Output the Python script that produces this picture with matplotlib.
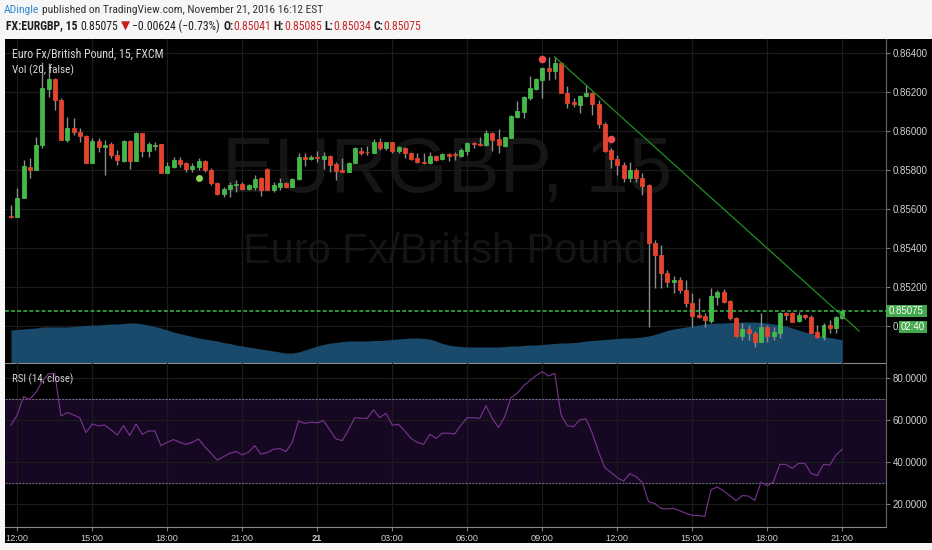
import matplotlib
matplotlib.use("Agg")
import matplotlib.pyplot as plt
from matplotlib.patches import Rectangle
from matplotlib.font_manager import FontProperties, fontManager
import numpy as np

# ---------------- data ----------------
opens = [0.85564, 0.85559, 0.85656, 0.85815, 0.85800, 0.85928, 0.86215, 0.86267, 0.86159, 0.85954,
         0.86015, 0.85995, 0.85974, 0.85836, 0.85949, 0.85918, 0.85933, 0.85877, 0.85846, 0.85949,
         0.85846, 0.85990, 0.85897, 0.85923, 0.85933, 0.85785, 0.85815, 0.85851, 0.85836, 0.85805,
         0.85815, 0.85846, 0.85800, 0.85733, 0.85677, 0.85702, 0.85723, 0.85728, 0.85702, 0.85713,
         0.85759, 0.85805, 0.85697, 0.85713, 0.85733, 0.85713, 0.85754, 0.85867, 0.85856, 0.85867,
         0.85856, 0.85872, 0.85831, 0.85800, 0.85790, 0.85836, 0.85897, 0.85892, 0.85887, 0.85944,
         0.85913, 0.85944, 0.85897, 0.85913, 0.85887, 0.85861, 0.85841, 0.85836, 0.85872, 0.85856,
         0.85882, 0.85882, 0.85872, 0.85897, 0.85938, 0.85933, 0.85928, 0.85990, 0.85959, 0.85923,
         0.85964, 0.86072, 0.86097, 0.86169, 0.86215, 0.86262, 0.86323, 0.86308, 0.86349, 0.86195,
         0.86149, 0.86133, 0.86180, 0.86195, 0.86139, 0.86036, 0.85903, 0.85856, 0.85826, 0.85759,
         0.85800, 0.85759, 0.85723, 0.85425, 0.85364, 0.85272, 0.85225, 0.85236, 0.85184, 0.85118,
         0.85056, 0.85051, 0.85025, 0.85148, 0.85174, 0.85128, 0.85041, 0.84948, 0.84984, 0.84964,
         0.84918, 0.84995, 0.84948, 0.84964, 0.85066, 0.85066, 0.85025, 0.85056, 0.85046, 0.84969,
         0.84943, 0.85005, 0.84989, 0.85041]
highs = [0.85620, 0.85708, 0.85851, 0.85861, 0.85969, 0.86354, 0.86349, 0.86272, 0.86169, 0.86072,
         0.86067, 0.86015, 0.85979, 0.85964, 0.85964, 0.85954, 0.85944, 0.85903, 0.85954, 0.85954,
         0.85995, 0.85990, 0.85944, 0.85944, 0.85933, 0.85841, 0.85867, 0.85867, 0.85841, 0.85836,
         0.85861, 0.85851, 0.85810, 0.85738, 0.85713, 0.85738, 0.85749, 0.85738, 0.85728, 0.85774,
         0.85764, 0.85810, 0.85738, 0.85759, 0.85738, 0.85759, 0.85887, 0.85887, 0.85877, 0.85897,
         0.85892, 0.85877, 0.85841, 0.85861, 0.85841, 0.85918, 0.85918, 0.85923, 0.85959, 0.85964,
         0.85944, 0.85944, 0.85923, 0.85918, 0.85892, 0.85887, 0.85887, 0.85892, 0.85877, 0.85887,
         0.85887, 0.85892, 0.85913, 0.85944, 0.85944, 0.85969, 0.86005, 0.85995, 0.86010, 0.85969,
         0.86082, 0.86154, 0.86180, 0.86282, 0.86272, 0.86328, 0.86380, 0.86380, 0.86354, 0.86231,
         0.86169, 0.86185, 0.86236, 0.86200, 0.86159, 0.86046, 0.85913, 0.85877, 0.85841, 0.85841,
         0.85810, 0.85785, 0.85728, 0.85441, 0.85415, 0.85287, 0.85256, 0.85251, 0.85236, 0.85169,
         0.85143, 0.85066, 0.85195, 0.85184, 0.85189, 0.85133, 0.85046, 0.85015, 0.85005, 0.84974,
         0.85066, 0.85005, 0.84995, 0.85071, 0.85071, 0.85071, 0.85071, 0.85061, 0.85056, 0.85005,
         0.85015, 0.85030, 0.85051, 0.85085]
lows = [0.85554, 0.85559, 0.85656, 0.85759, 0.85800, 0.85913, 0.86174, 0.86108, 0.85954, 0.85944,
        0.85979, 0.85944, 0.85836, 0.85836, 0.85892, 0.85774, 0.85861, 0.85826, 0.85841, 0.85805,
        0.85846, 0.85867, 0.85867, 0.85903, 0.85785, 0.85785, 0.85810, 0.85815, 0.85790, 0.85790,
        0.85800, 0.85790, 0.85723, 0.85672, 0.85661, 0.85661, 0.85687, 0.85697, 0.85697, 0.85697,
        0.85667, 0.85697, 0.85687, 0.85697, 0.85708, 0.85713, 0.85749, 0.85820, 0.85851, 0.85841,
        0.85805, 0.85790, 0.85749, 0.85790, 0.85790, 0.85836, 0.85877, 0.85877, 0.85887, 0.85903,
        0.85903, 0.85887, 0.85887, 0.85861, 0.85851, 0.85836, 0.85831, 0.85831, 0.85846, 0.85851,
        0.85846, 0.85851, 0.85867, 0.85877, 0.85913, 0.85923, 0.85923, 0.85897, 0.85887, 0.85918,
        0.85964, 0.86067, 0.86067, 0.86159, 0.86210, 0.86169, 0.86262, 0.86267, 0.86195, 0.86118,
        0.86123, 0.86092, 0.86174, 0.86082, 0.86015, 0.85892, 0.85810, 0.85774, 0.85738, 0.85738,
        0.85738, 0.85672, 0.84995, 0.85195, 0.85195, 0.85200, 0.85169, 0.85169, 0.85097, 0.84995,
        0.85041, 0.84995, 0.85015, 0.85107, 0.85118, 0.85030, 0.84943, 0.84928, 0.84928, 0.84892,
        0.84918, 0.84918, 0.84928, 0.84938, 0.85030, 0.85020, 0.85020, 0.85036, 0.84964, 0.84938,
        0.84928, 0.84964, 0.84964, 0.85034]
closes = [0.85559, 0.85656, 0.85820, 0.85800, 0.85928, 0.86221, 0.86267, 0.86159, 0.85954, 0.86015,
          0.85995, 0.85974, 0.85836, 0.85949, 0.85918, 0.85928, 0.85877, 0.85851, 0.85949, 0.85846,
          0.85990, 0.85897, 0.85933, 0.85928, 0.85785, 0.85820, 0.85851, 0.85831, 0.85805, 0.85820,
          0.85846, 0.85800, 0.85733, 0.85677, 0.85702, 0.85723, 0.85728, 0.85702, 0.85723, 0.85754,
          0.85697, 0.85697, 0.85723, 0.85733, 0.85713, 0.85754, 0.85867, 0.85856, 0.85867, 0.85861,
          0.85872, 0.85826, 0.85795, 0.85790, 0.85836, 0.85913, 0.85887, 0.85890, 0.85944, 0.85913,
          0.85944, 0.85897, 0.85918, 0.85887, 0.85856, 0.85841, 0.85836, 0.85872, 0.85851, 0.85882,
          0.85872, 0.85877, 0.85903, 0.85938, 0.85933, 0.85928, 0.85990, 0.85954, 0.85928, 0.85969,
          0.86077, 0.86103, 0.86174, 0.86221, 0.86267, 0.86323, 0.86308, 0.86349, 0.86195, 0.86144,
          0.86139, 0.86180, 0.86195, 0.86139, 0.86036, 0.85897, 0.85856, 0.85826, 0.85759, 0.85800,
          0.85759, 0.85718, 0.85425, 0.85364, 0.85272, 0.85225, 0.85236, 0.85184, 0.85118, 0.85051,
          0.85046, 0.85030, 0.85154, 0.85174, 0.85123, 0.85041, 0.84948, 0.84984, 0.84964, 0.84918,
          0.84995, 0.84948, 0.84969, 0.85066, 0.85056, 0.85020, 0.85056, 0.85046, 0.84964, 0.84943,
          0.85005, 0.84989, 0.85046, 0.85075]
rsi = [57.5, 62.3, 71.0, 69.7, 73.0, 78.4, 81.8, 82.1, 61.8, 63.5,
       62.3, 61.0, 53.9, 58.0, 57.1, 57.5, 55.2, 52.8, 57.2, 52.5,
       58.0, 53.1, 54.7, 54.7, 47.7, 49.3, 50.6, 49.3, 48.3, 49.3,
       50.9, 47.2, 44.1, 40.9, 42.5, 44.1, 44.9, 43.3, 44.6, 47.7,
       43.7, 44.4, 46.0, 46.3, 44.9, 49.3, 59.4, 58.3, 58.8, 58.6,
       59.6, 55.2, 50.9, 50.1, 55.2, 61.0, 60.7, 60.7, 64.7, 61.0,
       63.1, 57.5, 57.8, 54.7, 51.2, 49.3, 48.3, 53.1, 51.2, 53.6,
       53.6, 53.3, 57.5, 61.0, 61.0, 60.7, 66.7, 60.7, 56.3, 61.5,
       70.5, 72.6, 76.2, 78.6, 81.0, 82.9, 80.8, 82.1, 62.3, 57.2,
       56.7, 59.9, 60.4, 53.6, 44.9, 37.3, 35.0, 32.5, 30.9, 34.4,
       33.0, 30.3, 21.1, 20.2, 17.9, 17.6, 17.9, 16.8, 15.6, 14.6,
       14.5, 14.1, 26.7, 28.1, 26.2, 24.0, 21.6, 24.0, 23.8, 21.7,
       30.3, 28.7, 30.6, 38.8, 38.8, 36.9, 39.3, 39.3, 34.6, 33.5,
       38.8, 38.5, 43.3, 46.0]
vol_sma = [33, 33.5, 34, 34.5, 35, 36, 36, 36, 36, 36,
           36.5, 37, 37.5, 38, 38, 38.5, 39, 39, 39.5, 40,
           40, 39, 38, 36.5, 35, 33, 31, 29.5, 28, 26.5,
           25, 24, 23, 22, 20.5, 19.5, 18, 17, 16, 15,
           14, 13, 12, 11, 10, 10, 11, 13, 15, 17,
           18.5, 20, 20.5, 21.5, 22, 22, 22, 22, 22.5, 22.5,
           23, 23.5, 24, 24.5, 25, 25, 24.5, 24, 22, 19.5,
           18, 17, 16.5, 16, 16, 16, 16, 16, 16, 16.5,
           17, 17, 17.5, 18, 18, 18.5, 19, 19.5, 20, 20,
           20.5, 21, 22, 22.5, 23, 23.5, 24, 24.5, 25, 25,
           25.5, 26, 27, 28.5, 30.5, 32.5, 34, 35, 36, 37,
           38, 39, 39.5, 40, 40, 40.5, 40.5, 41, 41, 41,
           40.5, 40, 39, 38, 37, 35, 33, 31, 29.5, 28,
           26.5, 25.5, 24.5, 23]
vol_axis_max = 324.0
time_labels = ["12:00", "15:00", "18:00", "21:00", "21", "03:00",
               "06:00", "09:00", "12:00", "15:00", "18:00", "21:00"]
bars_per_label = 12
price_ticks = [0.850, 0.852, 0.854, 0.856, 0.858, 0.860, 0.862, 0.864]
rsi_ticks = [20, 40, 60, 80]
rsi_upper, rsi_lower = 70, 30
last_price = 0.85075
countdown = "02:40"
trend_x = [87.0, 135.7]
trend_y = [0.86380, 0.84974]
buy_x, buy_y = [30], [0.85759]
sell_x, sell_y = [85, 96], [0.86369, 0.85959]

# ---------------- styling ----------------
W, H = 932, 550
GREEN = "#45b84a"
RED = "#e5432d"
WICK = "#8c8c8c"
GRID = "#1b1b1b"
TXT = "#d2d2d2"

installed = {f.name for f in fontManager.ttflist}


def pick(*names):
    for nm in names:
        if nm in installed:
            return [nm, "DejaVu Sans"]
    return ["DejaVu Sans"]


hdr_family = pick("Roboto Condensed", "Open Sans Condensed", "Liberation Sans Narrow", "Lato")
lbl_family = pick("Roboto Condensed", "Liberation Sans Narrow", "Lato")
num_family = pick("Liberation Sans")

fig = plt.figure(figsize=(W / 100, H / 100), dpi=100)
fig.patch.set_facecolor("#f6f6f6")
renderer = fig.canvas.get_renderer()


def rect(x0, y0, x1, y1):
    return [x0 / W, 1 - y1 / H, (x1 - x0) / W, (y1 - y0) / H]


def adv(s, size, weight, family):
    fp = FontProperties(family=family, size=size, weight=weight)
    w1, _, _ = renderer.get_text_width_height_descent("|" + s + "|", fp, ismath=False)
    w0, _, _ = renderer.get_text_width_height_descent("||", fp, ismath=False)
    return w1 - w0


def seq_text(x0, y, parts, target_w, family, base=8.0, zorder=6):
    total = sum(adv(s, base, wt, family) for s, c, wt in parts)
    size = base * target_w / total
    x = x0
    for s, c, wt in parts:
        if c is not None:
            fig.text(x / W, 1 - y / H, s, fontsize=size, color=c, fontweight=wt,
                     family=family, ha="left", va="center", zorder=zorder)
        x += adv(s, size, wt, family)


def fit_size(s, target_w, family, weight="normal", base=10.0):
    return base * target_w / adv(s, base, weight, family)


# black chart background
bg = fig.add_axes(rect(5, 39, 932, 543))
bg.set_facecolor("black")
bg.set_xticks([]); bg.set_yticks([])
for sp in bg.spines.values():
    sp.set_visible(False)
bg.set_zorder(0)

n = len(opens)
idx = np.arange(n)
xlim = (-0.96, 140.0)
ylim_main = (0.84810, 0.86472)

# main price axes
ax = fig.add_axes(rect(5, 39, 886, 363))
ax.set_zorder(2)
ax.patch.set_alpha(0)
ax.set_xlim(*xlim)
ax.set_ylim(*ylim_main)
tick_bars = list(range(1, n, bars_per_label))

# watermark
wm_family = pick("Liberation Sans")
s1 = "EURGBP, 15"
ax.text(447 / W, 1 - 171 / H, s1, transform=fig.transFigure, ha="center", va="center",
        fontsize=fit_size(s1, 450, wm_family), color="#151515", family=wm_family, zorder=0)
s2 = "Euro Fx/British Pound"
ax.text(445 / W, 1 - 252 / H, s2, transform=fig.transFigure, ha="center", va="center",
        fontsize=fit_size(s2, 406, wm_family), color="#141414", family=wm_family, zorder=0)

for p in price_ticks:
    ax.axhline(p, color=GRID, lw=0.9, zorder=0.5)
for tb in tick_bars:
    ax.axvline(tb, color=GRID, lw=0.9, zorder=0.5)

# volume moving-average area (own scale along the panel height)
ax.fill_between(idx, 0, np.array(vol_sma) / vol_axis_max, transform=ax.get_xaxis_transform(),
                color="#1a4a6b", lw=0, zorder=1)

o, h, l, c = (np.array(a) for a in (opens, highs, lows, closes))
colors = np.where(c >= o, GREEN, RED)
ax.vlines(idx, l, h, color=WICK, lw=1.0, zorder=3)
body_bot = np.minimum(o, c)
body_h = np.maximum(np.abs(c - o), 0.00002)
ax.bar(idx, body_h, bottom=body_bot, width=0.64, color=colors, edgecolor=colors,
       lw=0.6, zorder=4)

ax.plot(trend_x, trend_y, color="#1f8f1f", lw=0.9, zorder=5)
ax.axhline(last_price, color="#3fbf4a", lw=1.1, ls=(0, (2.5, 1.5)), zorder=5)
ax.plot(buy_x, buy_y, "o", color="#8bd45a", ms=5, mec="none", zorder=6)
ax.plot(sell_x, sell_y, "o", color="#e84b4b", ms=5.5, mec="none", zorder=6)

ax.yaxis.tick_right()
ax.set_yticks(price_ticks)
ax.set_yticklabels([f"{p:.5f}" for p in price_ticks])
ax.set_xticks([])
ax.tick_params(axis="y", colors="#7a7a7a", labelcolor=TXT, length=3, width=0.8,
               pad=2, labelsize=7)
for lab in ax.get_yticklabels():
    lab.set_family(num_family)
for side in ("top", "left"):
    ax.spines[side].set_visible(False)
ax.spines["right"].set_color("#666666")
ax.spines["bottom"].set_color("#8a8a8a")

# RSI axes
ar = fig.add_axes(rect(5, 363, 886, 527))
ar.set_zorder(2)
ar.patch.set_alpha(0)
ar.set_xlim(*xlim)
ar.set_ylim(9.07, 86.98)
ar.axhspan(rsi_lower, rsi_upper, color="#160822", lw=0, zorder=0)
for v in rsi_ticks:
    ar.axhline(v, color=GRID, lw=0.9, zorder=1)
for tb in tick_bars:
    ar.axvline(tb, color=GRID, lw=0.9, zorder=1)
for v in (rsi_upper, rsi_lower):
    ar.axhline(v, color="#6f6882", lw=0.8, ls=(0, (2, 1)), zorder=2)
ar.plot(idx, rsi, color="#74338a", lw=0.85, zorder=3)
ar.yaxis.tick_right()
ar.set_yticks(rsi_ticks)
ar.set_yticklabels([f"{v:.4f}" for v in rsi_ticks])
ar.set_xticks(tick_bars)
ar.set_xticklabels(time_labels)
ar.tick_params(axis="both", colors="#7a7a7a", labelcolor=TXT, length=3, width=0.8,
               pad=2, labelsize=7)
ar.tick_params(axis="x", labelsize=6.6)
for lab in ar.get_yticklabels() + ar.get_xticklabels():
    lab.set_family(num_family)
for lab in ar.get_xticklabels():
    if lab.get_text() == "21":
        lab.set_fontweight("bold")
for side in ("top", "left"):
    ar.spines[side].set_visible(False)
ar.spines["right"].set_color("#666666")
ar.spines["bottom"].set_color("#8a8a8a")

# last price label and countdown
fig.add_artist(Rectangle((886 / W, 1 - 317 / H), 41 / W, 12 / H, transform=fig.transFigure,
                         facecolor="#43a84b", edgecolor="none", zorder=10))
fig.text(906.5 / W, 1 - 311 / H, f"{last_price:.5f}", color="white", fontsize=7,
         family=num_family, ha="center", va="center", zorder=11)
fig.add_artist(Rectangle((899 / W, 1 - 333 / H), 28 / W, 12 / H, transform=fig.transFigure,
                         facecolor="#43a84b", edgecolor="none", zorder=10))
fig.text(913 / W, 1 - 327 / H, countdown, color="white", fontsize=7,
         family=num_family, ha="center", va="center", zorder=11)

# in-chart labels
for s, x0, y0, w in (("Euro Fx/British Pound, 15, FXCM", 12, 54, 152),
                     ("Vol (20, false)", 12, 70, 62),
                     ("RSI (14, close)", 12, 379, 61)):
    fig.text(x0 / W, 1 - y0 / H, s, color="#d6d6d6", family=lbl_family,
             fontsize=fit_size(s, w, lbl_family), ha="left", va="center", zorder=12)

# header
seq_text(4, 10, [("ADingle", "#2d8ad6", "normal"), (" ", None, "normal"),
                 ("published on TradingView.com, November 21, 2016 16:12 EST", "#333333", "normal")],
         319, hdr_family)
DARK = "#1e1e1e"
VAL = "#c62828"
seq_text(6, 26, [("FX:EURGBP, 15", DARK, "bold"), (" ", None, "normal"),
                 ("0.85075", DARK, "normal"), (" ", None, "normal"),
                 ("\u25BC", "#c81e1e", "normal"), (" ", None, "normal"),
                 ("\u22120.00624 (\u22120.73%)", DARK, "normal"), (" ", None, "normal"),
                 ("O:", DARK, "bold"), ("0.85041", VAL, "normal"), (" ", None, "normal"),
                 ("H:", DARK, "bold"), ("0.85085", VAL, "normal"), (" ", None, "normal"),
                 ("L:", DARK, "bold"), ("0.85034", VAL, "normal"), (" ", None, "normal"),
                 ("C:", DARK, "bold"), ("0.85075", VAL, "normal")],
         417, hdr_family)

fig.savefig("out.png", dpi=100, facecolor=fig.get_facecolor())
